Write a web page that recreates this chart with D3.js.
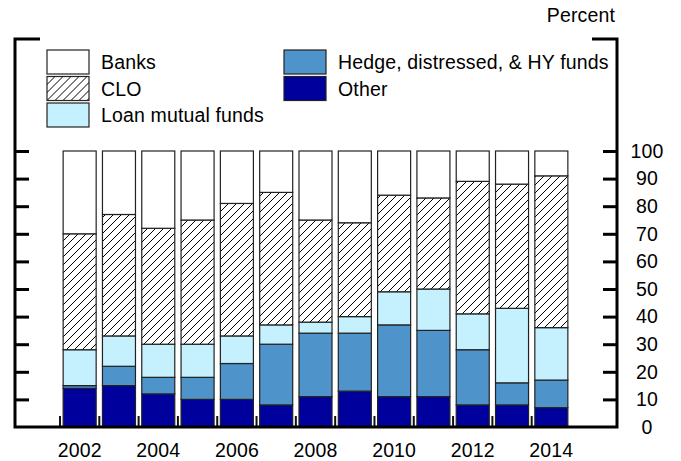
<!DOCTYPE html>
<html>
<head>
<meta charset="utf-8">
<script src="https://cdn.jsdelivr.net/npm/d3@7"></script>
<style>
  html, body { margin: 0; padding: 0; background: #fff; }
  svg { display: block; }
  text { font-family: "Liberation Sans", Arial, Helvetica, sans-serif; fill: #000; letter-spacing: 0.15px; }
</style>
</head>
<body>
<svg id="chart" width="681" height="461"></svg>
<script>
// ---- Data (percent shares, bottom to top) ----
const years = [2002, 2003, 2004, 2005, 2006, 2007, 2008, 2009, 2010, 2011, 2012, 2013, 2014];
const other = [14, 15, 12, 10, 10, 8, 11, 13, 11, 11, 8, 8, 7];
const hedgeHY = [1, 7, 6, 8, 13, 22, 23, 21, 26, 24, 20, 8, 10];
const loanFunds = [13, 11, 12, 12, 10, 7, 4, 6, 12, 15, 13, 27, 19];
const clo = [42, 44, 42, 45, 48, 48, 37, 34, 35, 33, 48, 45, 55];
const banks = [30, 23, 28, 25, 19, 15, 25, 26, 16, 17, 11, 12, 9];
const yTicks = [0, 10, 20, 30, 40, 50, 60, 70, 80, 90, 100];
const yearLabels = [2002, 2004, 2006, 2008, 2010, 2012, 2014];

const seriesKeys = ["other", "hedge", "loan", "clo", "banks"];
const seriesNames = {
  banks: "Banks", clo: "CLO", loan: "Loan mutual funds",
  hedge: "Hedge, distressed, & HY funds", other: "Other"
};
const fills = {
  banks: "#ffffff", clo: "url(#hatch)", loan: "#c4f1fd",
  hedge: "#4f93cb", other: "#00009c"
};

const rows = years.map((yr, i) => ({
  year: yr, other: other[i], hedge: hedgeHY[i], loan: loanFunds[i], clo: clo[i], banks: banks[i]
}));

const svg = d3.select("#chart");
const FS = 19.5;

// hatch pattern
const defs = svg.append("defs");
const pat = defs.append("pattern").attr("id", "hatch")
  .attr("patternUnits", "userSpaceOnUse").attr("width", 8).attr("height", 8);
pat.append("rect").attr("width", 8).attr("height", 8).attr("fill", "#fff");
pat.append("path").attr("d", "M-2,2 l4,-4 M0,8 l8,-8 M6,10 l4,-4")
  .attr("stroke", "#000").attr("stroke-width", 1);

// scales
const leftX = 15, rightX = 617, topY = 39, baseY = 427;
const y = d3.scaleLinear().domain([0, 100]).range([baseY, 151]);
const x = d3.scaleBand().domain(years).range([60, 571]).paddingInner(0.16).paddingOuter(0.08);

// stacked bars
const stacked = d3.stack().keys(seriesKeys)(rows);
svg.append("g").selectAll("g").data(stacked).join("g")
  .attr("fill", d => fills[d.key])
  .selectAll("rect").data(d => d).join("rect")
  .attr("x", d => x(d.data.year))
  .attr("width", x.bandwidth())
  .attr("y", d => y(d[1]))
  .attr("height", d => y(d[0]) - y(d[1]))
  .attr("stroke", "#222").attr("stroke-width", 1.2);

// bottom small ticks between bars
const step = x.step();
svg.append("g").selectAll("line").data(years).join("line")
  .attr("x1", d => x(d) - step * x.paddingInner() / 2)
  .attr("x2", d => x(d) - step * x.paddingInner() / 2)
  .attr("y1", baseY - 11).attr("y2", baseY)
  .attr("stroke", "#111").attr("stroke-width", 2);

// left axis (ticks only)
const gl = svg.append("g").attr("transform", `translate(${leftX},0)`)
  .call(d3.axisLeft(y).tickValues(yTicks.filter(v => v > 0)).tickSize(-14).tickFormat(""));
gl.select(".domain").remove();
gl.selectAll(".tick line").attr("stroke", "#000").attr("stroke-width", 3);

// right axis
const gr = svg.append("g").attr("transform", `translate(${rightX},0)`)
  .call(d3.axisRight(y).tickValues(yTicks).tickSize(-14).tickPadding(30));
gr.select(".domain").remove();
gr.selectAll(".tick line").attr("stroke", "#000").attr("stroke-width", 3)
  .filter(d => d === 0).remove();
gr.selectAll(".tick text")
  .attr("x", 30).attr("text-anchor", "middle")
  .style("font-size", FS + "px").style("font-family", "'Liberation Sans', Arial, sans-serif")
  .attr("fill", "#000");

// bottom year labels
const gb = svg.append("g").attr("transform", `translate(0,${baseY})`)
  .call(d3.axisBottom(x).tickValues(yearLabels).tickSize(0).tickPadding(16));
gb.select(".domain").remove();
gb.selectAll(".tick text")
  .style("font-size", FS + "px").style("font-family", "'Liberation Sans', Arial, sans-serif")
  .attr("fill", "#000");

// frame lines
const frame = svg.append("g").attr("stroke", "#000").attr("stroke-width", 3).attr("fill", "none");
frame.append("path").attr("d", `M${leftX + 25},${topY} H${leftX} V${baseY} H${rightX} V${topY} H${rightX - 25}`)
  .attr("stroke-linejoin", "miter");

// Percent label
svg.append("text").attr("x", 615).attr("y", 22).attr("text-anchor", "end")
  .style("font-size", FS + "px").text("Percent");

// legend
const legendItems = [
  { key: "banks", col: 0, row: 0 },
  { key: "clo", col: 0, row: 1 },
  { key: "loan", col: 0, row: 2 },
  { key: "hedge", col: 1, row: 0 },
  { key: "other", col: 1, row: 1 }
];
const colX = [47, 284];
const rowY = [50, 76.5, 103];
const lg = svg.append("g").selectAll("g").data(legendItems).join("g")
  .attr("transform", d => `translate(${colX[d.col]},${rowY[d.row]})`);
lg.append("rect").attr("width", 42).attr("height", 24)
  .attr("fill", d => fills[d.key]).attr("stroke", "#222").attr("stroke-width", 1.2);
lg.append("text").attr("x", 54).attr("y", 19)
  .style("font-size", FS + "px").text(d => seriesNames[d.key]);
</script>
</body>
</html>
